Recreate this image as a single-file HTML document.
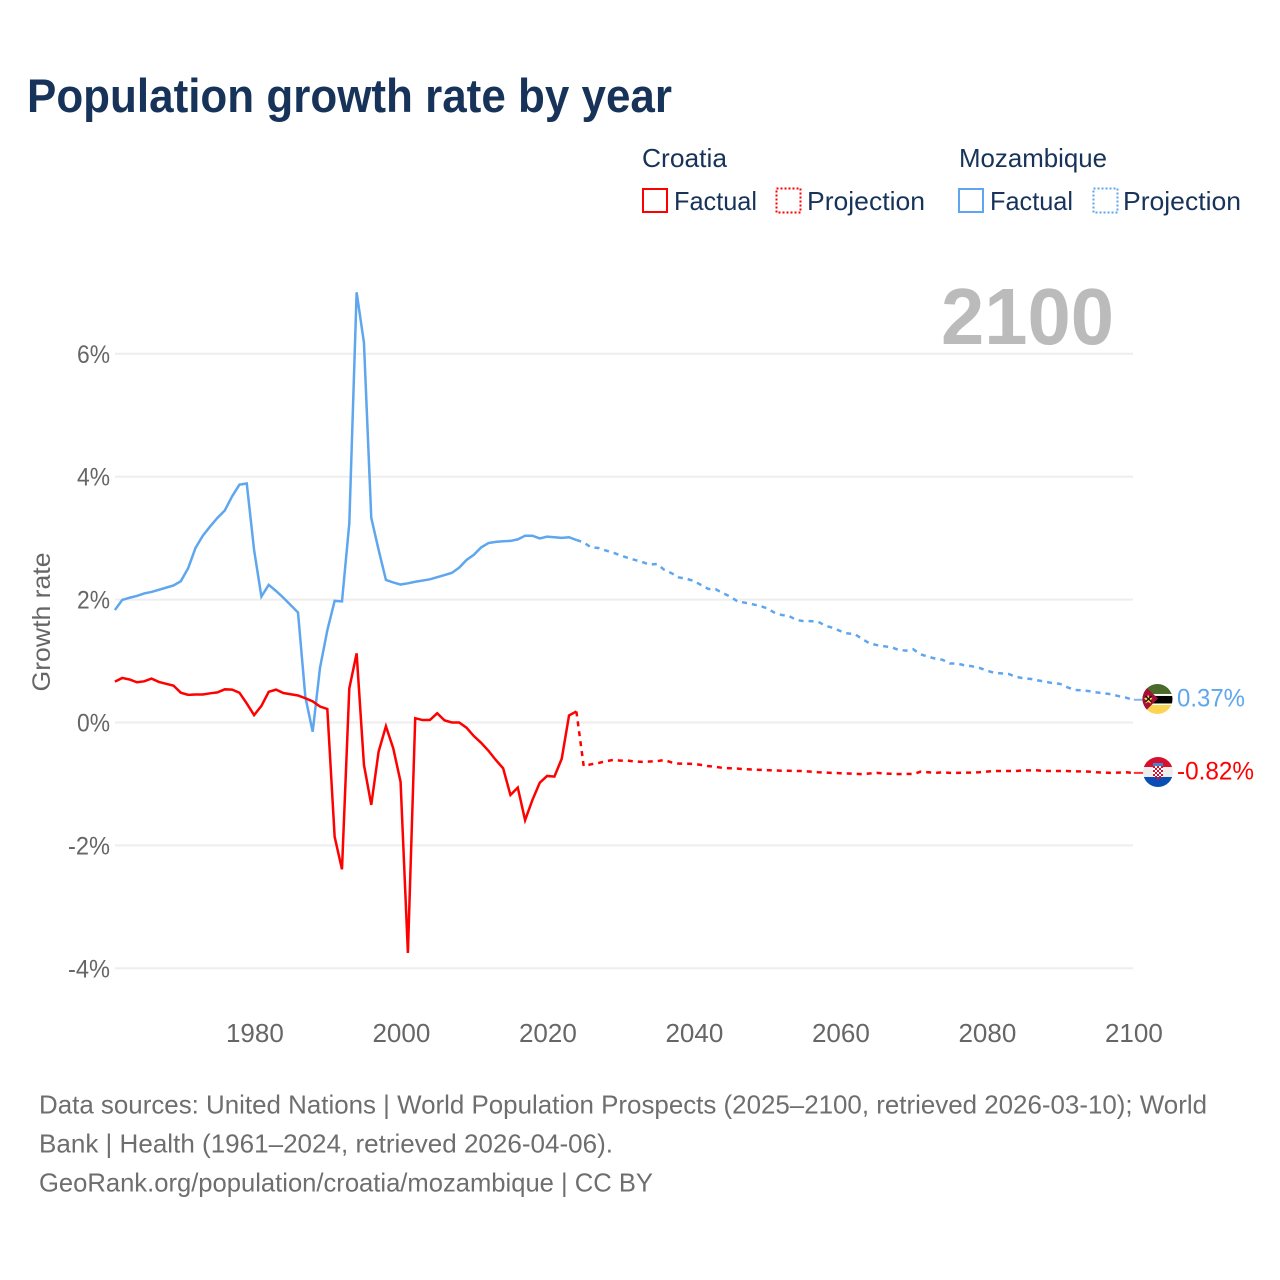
<!DOCTYPE html>
<html lang="en">
<head>
<meta charset="utf-8">
<title>Population growth rate by year</title>
<style>
html,body{margin:0;padding:0;background:#fff;}
svg{display:block;font-family:"Liberation Sans",sans-serif;}
</style>
</head>
<body>
<svg id="chart" xmlns="http://www.w3.org/2000/svg" width="1280" height="1280" viewBox="0 0 1280 1280">
  <defs>
    <clipPath id="flag-clip"><circle cx="0" cy="0" r="15"></circle></clipPath>
  </defs>
  <rect x="0" y="0" width="1280" height="1280" fill="#fff"></rect>
  <text x="27" y="112" font-size="47" font-weight="700" fill="#17335a" textLength="645" lengthAdjust="spacingAndGlyphs">Population growth rate by year</text>

  <g font-size="26" fill="#17335a">
    <text x="642" y="167" textLength="85" lengthAdjust="spacingAndGlyphs">Croatia</text>
    <text x="959" y="167" textLength="148" lengthAdjust="spacingAndGlyphs">Mozambique</text>
    <rect x="643" y="189" width="24" height="23" fill="none" stroke="#ff0000" stroke-width="2"></rect>
    <text x="674" y="210" textLength="83" lengthAdjust="spacingAndGlyphs">Factual</text>
    <rect x="776.500" y="188.500" width="24" height="24" fill="none" stroke="#ff0000" stroke-width="2" stroke-dasharray="2 2"></rect>
    <text x="807" y="210" textLength="118" lengthAdjust="spacingAndGlyphs">Projection</text>
    <rect x="959" y="189" width="24" height="23" fill="none" stroke="#5ea6ee" stroke-width="2"></rect>
    <text x="990" y="210" textLength="83" lengthAdjust="spacingAndGlyphs">Factual</text>
    <rect x="1093.500" y="188.500" width="24" height="24" fill="none" stroke="#5ea6ee" stroke-width="2" stroke-dasharray="2 2"></rect>
    <text x="1123" y="210" textLength="118" lengthAdjust="spacingAndGlyphs">Projection</text>
  </g>

  <g id="grid"></g>
  <g id="y-ticks"></g>
  <g id="x-ticks"></g>
  <text transform="translate(50,622) rotate(-90)" text-anchor="middle" font-size="25" fill="#666" textLength="139" lengthAdjust="spacingAndGlyphs">Growth rate</text>
  <text x="941" y="344" font-size="80" font-weight="700" fill="#bbbbbb" textLength="173" lengthAdjust="spacingAndGlyphs">2100</text>

  <g id="series"></g>

  <g id="flag-mozambique">
    <g clip-path="url(#flag-clip)">
      <rect x="-15" y="-15" width="30" height="30" fill="#ffffff"></rect>
      <rect x="-15" y="-15" width="30" height="10" fill="#4a6a2c"></rect>
      <rect x="-15" y="-3" width="30" height="7.500" fill="#000000"></rect>
      <rect x="-15" y="6" width="30" height="9" fill="#fcd450"></rect>
      <polygon points="-15,-15 0.500,-0.500 -15,15" fill="#a60f35"></polygon>
      <polygon points="-9.500,-4.500 -8,-1.500 -5,-1 -7,1.500 -6.500,4.500 -9.500,3 -12,4.500 -11.500,1.500 -13.500,-1 -10.500,-1.500" fill="#fcd450"></polygon>
      <path d="M-12,-3 L-6,3 M-6,-3 L-12,3" stroke="#111" stroke-width="1.300"></path>
    </g>
  </g>
  <g id="flag-croatia">
    <g clip-path="url(#flag-clip)">
      <rect x="-15" y="-15" width="30" height="10" fill="#d8102f"></rect>
      <rect x="-15" y="-5" width="30" height="10" fill="#eeeeee"></rect>
      <rect x="-15" y="5" width="30" height="10" fill="#0a4db5"></rect>
      <rect x="-5" y="-9" width="10" height="3" fill="#3f86d6"></rect>
      <rect x="-5" y="-6" width="10" height="11" fill="#ffffff"></rect>
      <path d="M-5,-6h2v2h-2zM-1,-6h2v2h-2zM3,-6h2v2h-2zM-3,-4h2v2h-2zM1,-4h2v2h-2zM-5,-2h2v2h-2zM-1,-2h2v2h-2zM3,-2h2v2h-2zM-3,0h2v2h-2zM1,0h2v2h-2zM-5,2h2v2h-2zM-1,2h2v2h-2zM3,2h2v2h-2zM-3,4h2v2h-2zM1,4h2v2h-2zM-1,6h2v2h-2z" fill="#d8102f"></path>
    </g>
  </g>
  <text id="label-mozambique" x="1177" font-size="25" fill="#5ea6ee" textLength="68" lengthAdjust="spacingAndGlyphs"></text>
  <text id="label-croatia" x="1177" font-size="25" fill="#ff0000" textLength="77" lengthAdjust="spacingAndGlyphs"></text>

  <g font-size="26" fill="#6e6e6e">
    <text x="39" y="1113.500" textLength="1168" lengthAdjust="spacingAndGlyphs">Data sources: United Nations | World Population Prospects (2025–2100, retrieved 2026-03-10); World</text>
    <text x="39" y="1152.500" textLength="574" lengthAdjust="spacingAndGlyphs">Bank | Health (1961–2024, retrieved 2026-04-06).</text>
    <text x="39" y="1191.500" textLength="614" lengthAdjust="spacingAndGlyphs">GeoRank.org/population/croatia/mozambique | CC BY</text>
  </g>
</svg>
<script>
const factualStartYear = 1961;
const projectionStartYear = 2024;
const yTickValues = [6, 4, 2, 0, -2, -4];
const yTickLabels = ["6%", "4%", "2%", "0%", "-2%", "-4%"];
const xTickYears = [1980, 2000, 2020, 2040, 2060, 2080, 2100];

const mozambiqueFactual = [1.83,1.995,2.03,2.06,2.10,2.125,2.16,2.195,2.23,2.30,2.51,2.84,3.04,3.19,3.33,3.45,3.68,3.87,3.89,2.81,2.05,2.24,2.14,2.03,1.91,1.79,0.415,-0.15,0.89,1.5,1.98,1.97,3.24,7.0,6.18,3.33,2.81,2.32,2.28,2.245,2.265,2.29,2.31,2.33,2.365,2.40,2.435,2.52,2.645,2.73,2.85,2.92,2.94,2.95,2.955,2.98,3.04,3.04,2.995,3.025,3.015,3.005,3.015,2.97];
const mozambiqueProjection = [2.97,2.93,2.85,2.84,2.80,2.765,2.72,2.68,2.645,2.61,2.57,2.58,2.485,2.43,2.36,2.34,2.305,2.24,2.175,2.17,2.105,2.05,1.97,1.95,1.925,1.90,1.86,1.79,1.75,1.735,1.67,1.65,1.65,1.64,1.575,1.54,1.49,1.45,1.44,1.36,1.29,1.26,1.24,1.225,1.18,1.17,1.19,1.11,1.07,1.04,1.02,0.96,0.96,0.93,0.915,0.89,0.845,0.81,0.80,0.79,0.745,0.72,0.71,0.685,0.665,0.64,0.63,0.575,0.53,0.525,0.51,0.49,0.475,0.46,0.43,0.405,0.37];
const croatiaFactual = [0.665,0.725,0.70,0.655,0.67,0.715,0.66,0.63,0.60,0.485,0.45,0.455,0.455,0.475,0.49,0.54,0.535,0.485,0.31,0.12,0.27,0.50,0.535,0.48,0.46,0.44,0.395,0.345,0.26,0.22,-1.86,-2.39,0.555,1.125,-0.69,-1.34,-0.475,-0.06,-0.42,-0.965,-3.75,0.07,0.04,0.04,0.15,0.035,0.0,0.0,-0.085,-0.22,-0.33,-0.46,-0.61,-0.745,-1.18,-1.06,-1.59,-1.26,-0.98,-0.87,-0.88,-0.59,0.115,0.18];
const croatiaProjection = [0.18,-0.71,-0.68,-0.66,-0.63,-0.61,-0.62,-0.62,-0.635,-0.64,-0.635,-0.63,-0.61,-0.65,-0.67,-0.67,-0.675,-0.69,-0.71,-0.72,-0.74,-0.745,-0.75,-0.76,-0.765,-0.77,-0.775,-0.78,-0.785,-0.785,-0.79,-0.79,-0.80,-0.81,-0.815,-0.82,-0.825,-0.83,-0.835,-0.84,-0.83,-0.82,-0.83,-0.835,-0.84,-0.835,-0.84,-0.80,-0.81,-0.82,-0.81,-0.82,-0.82,-0.815,-0.815,-0.81,-0.80,-0.79,-0.79,-0.79,-0.79,-0.78,-0.78,-0.78,-0.79,-0.79,-0.79,-0.79,-0.795,-0.795,-0.80,-0.81,-0.815,-0.82,-0.815,-0.81,-0.82];

const svgNS = "http://www.w3.org/2000/svg";
function xScale(year) { return 115.7 + (year - 1961) * 7.325; }
function yScale(value) { return 722.5 - value * 61.45; }
const lineShiftX = -0.8;
function buildPoints(values, startYear) {
  return values.map(function (v, i) {
    return (xScale(startYear + i) + lineShiftX).toFixed(2) + "," + yScale(v).toFixed(2);
  }).join(" ");
}
function lastOf(values) { return values[values.length - 1]; }

const grid = document.getElementById("grid");
const yTicks = document.getElementById("y-ticks");
yTickValues.forEach(function (value, i) {
  const line = document.createElementNS(svgNS, "line");
  
  
  line.setAttribute("x1", 115);
  line.setAttribute("x2", 1133);
  line.setAttribute("y1", yScale(value));
  line.setAttribute("y2", yScale(value));
  line.setAttribute("stroke", "#eeeeee");
  line.setAttribute("stroke-width", 2);
  grid.appendChild(line);

  const label = document.createElementNS(svgNS, "text");
  
  
  label.setAttribute("x", 110);
  label.setAttribute("y", yScale(value) + 9);
  label.setAttribute("text-anchor", "end");
  label.setAttribute("font-size", 25);
  label.setAttribute("fill", "#666");
  label.setAttribute("textLength", value < 0 ? 42 : 33);
  label.setAttribute("lengthAdjust", "spacingAndGlyphs");
  label.textContent = yTickLabels[i];
  yTicks.appendChild(label);
});

const xTicks = document.getElementById("x-ticks");
xTickYears.forEach(function (year) {
  const label = document.createElementNS(svgNS, "text");
  
  
  label.setAttribute("x", xScale(year));
  label.setAttribute("y", 1042);
  label.setAttribute("text-anchor", "middle");
  label.setAttribute("font-size", 26);
  label.setAttribute("fill", "#666");
  label.textContent = String(year);
  xTicks.appendChild(label);
});

const seriesGroup = document.getElementById("series");
function drawSeries(values, startYear, colour, dashed, name) {
  const poly = document.createElementNS(svgNS, "polyline");
  
  
  poly.setAttribute("points", buildPoints(values, startYear));
  poly.setAttribute("fill", "none");
  poly.setAttribute("stroke", colour);
  poly.setAttribute("stroke-width", 2.5);
  poly.setAttribute("stroke-linejoin", "miter");
  if (dashed) { poly.setAttribute("stroke-dasharray", "5 5"); }
  seriesGroup.appendChild(poly);
}
function drawConnector(value, colour, name) {
  const line = document.createElementNS(svgNS, "line");
  
  
  line.setAttribute("x1", xScale(2100));
  line.setAttribute("x2", 1145);
  line.setAttribute("y1", yScale(value));
  line.setAttribute("y2", yScale(value));
  line.setAttribute("stroke", colour);
  line.setAttribute("stroke-width", 2);
  line.setAttribute("opacity", 0.8);
  seriesGroup.appendChild(line);
}
drawSeries(mozambiqueFactual, factualStartYear, "#5ea6ee", false, "line-mozambique-factual");
drawSeries(mozambiqueProjection, projectionStartYear, "#5ea6ee", true, "line-mozambique-projection");
drawSeries(croatiaFactual, factualStartYear, "#ff0000", false, "line-croatia-factual");
drawSeries(croatiaProjection, projectionStartYear, "#ff0000", true, "line-croatia-projection");
drawConnector(lastOf(mozambiqueProjection), "#5ea6ee", "connector-mozambique");
drawConnector(lastOf(croatiaProjection), "#ff0000", "connector-croatia");

const mozLast = lastOf(mozambiqueProjection);
const croLast = lastOf(croatiaProjection);
document.getElementById("flag-mozambique").setAttribute("transform", "translate(1157.5," + (yScale(mozLast) - 0.8) + ")");
document.getElementById("flag-croatia").setAttribute("transform", "translate(1158," + (yScale(croLast) - 0.9) + ")");
const mozLabel = document.getElementById("label-mozambique");
mozLabel.setAttribute("y", yScale(mozLast) + 6.5);
mozLabel.textContent = mozLast.toFixed(2) + "%";
const croLabel = document.getElementById("label-croatia");
croLabel.setAttribute("y", yScale(croLast) + 6.5);
croLabel.textContent = croLast.toFixed(2) + "%";
</script>
</body>
</html>
